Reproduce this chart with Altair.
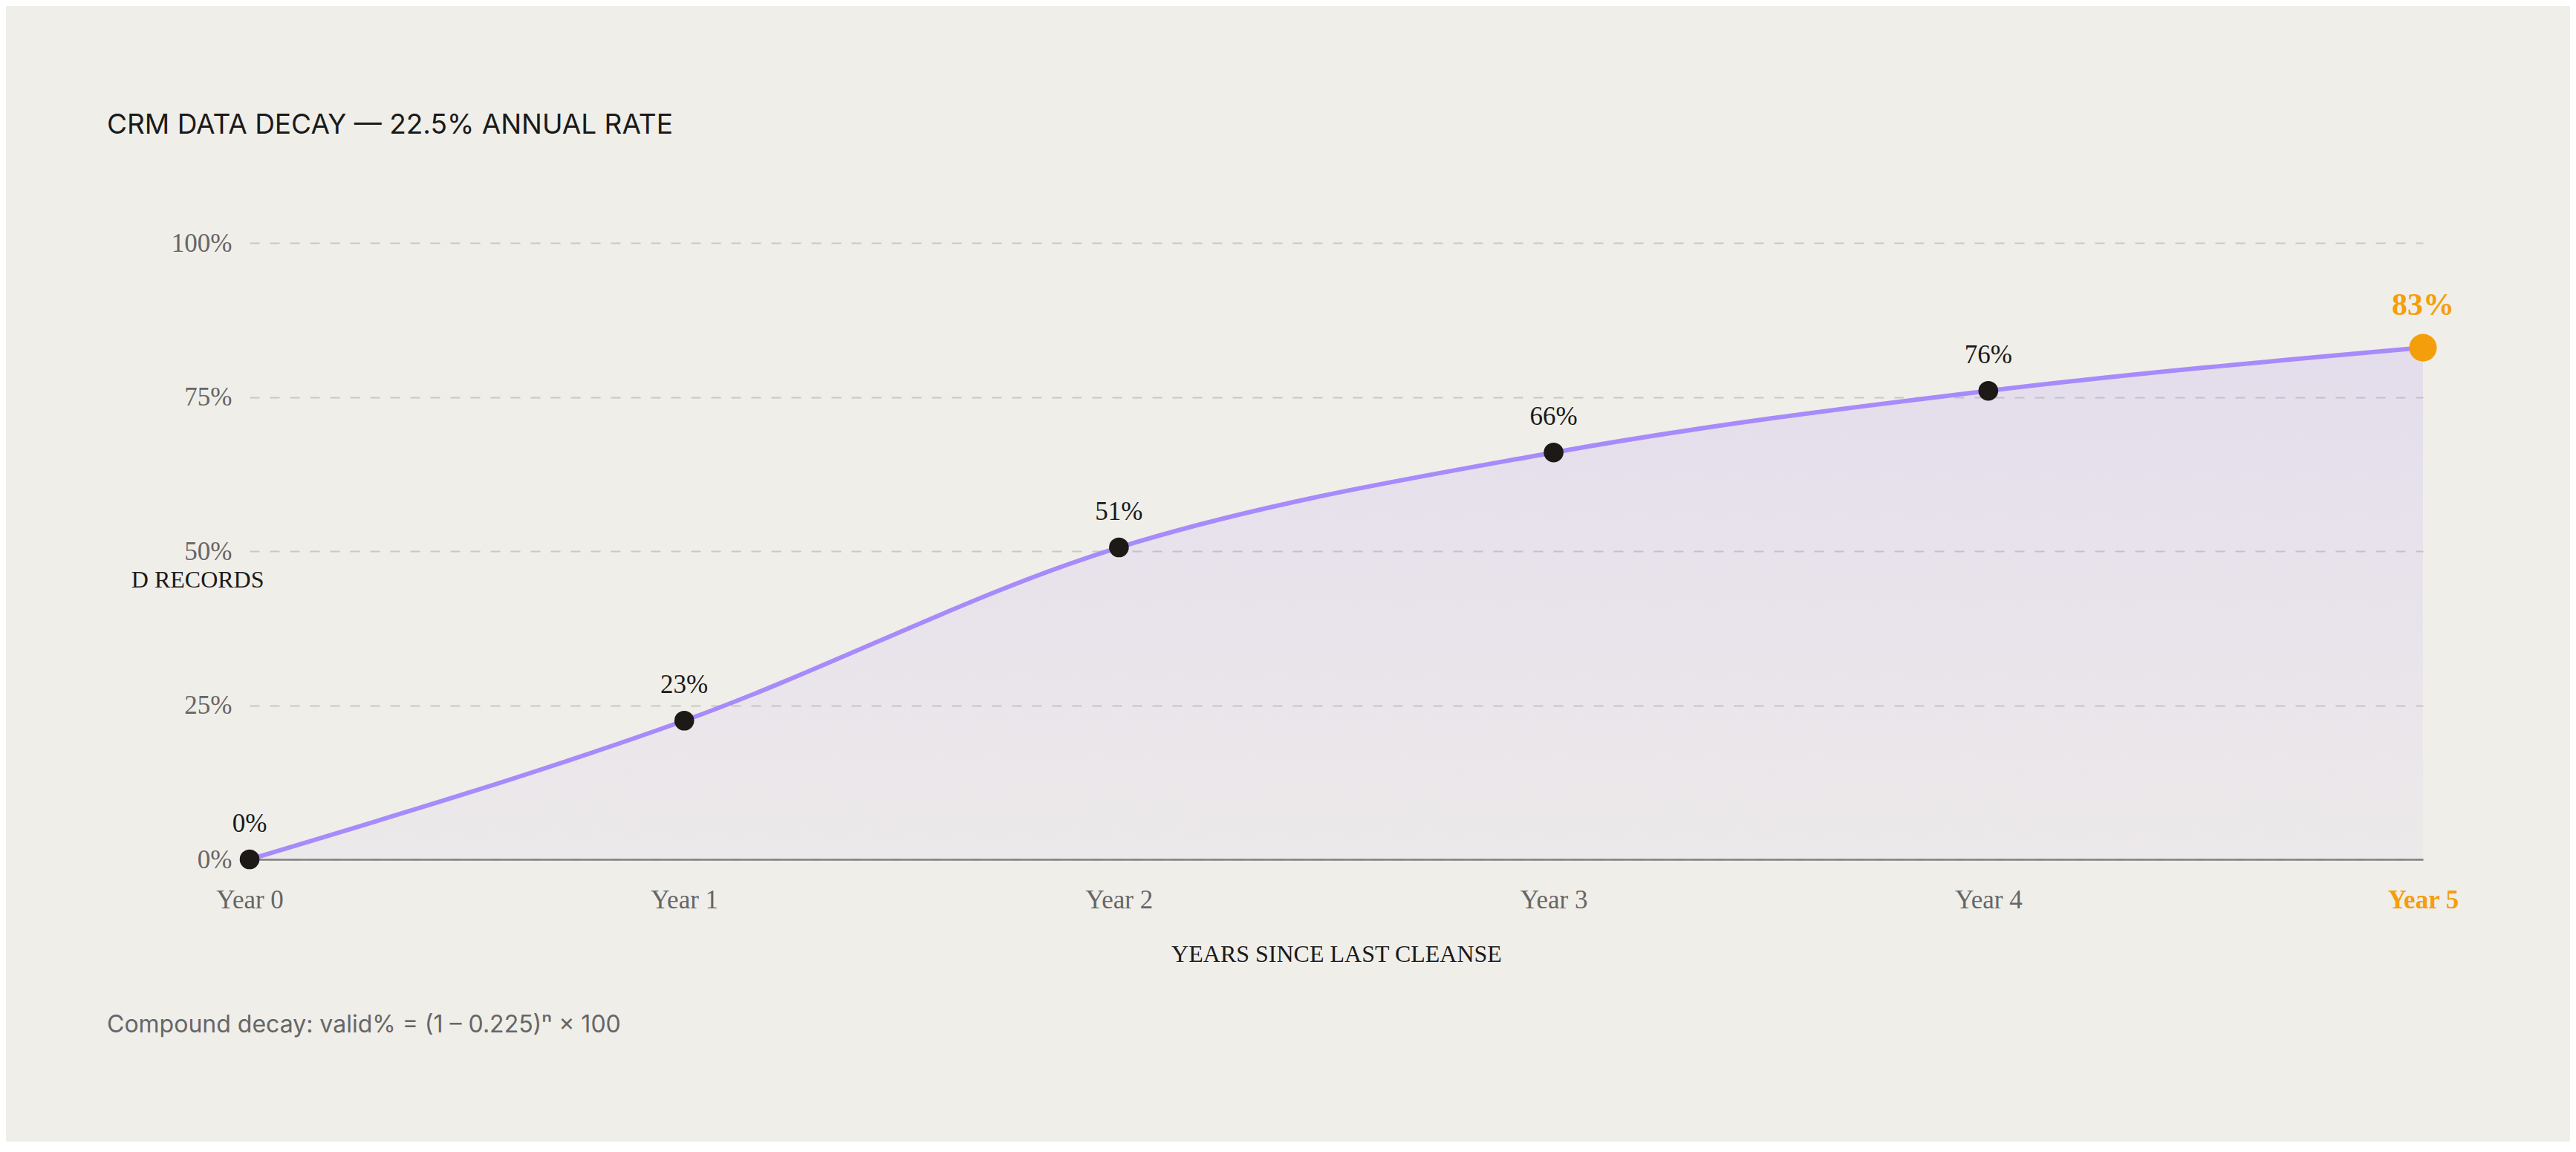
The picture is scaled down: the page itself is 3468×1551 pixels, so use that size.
import pandas as pd
import altair as alt

# dados
anos = [0, 1, 2, 3, 4, 5]
decaido = [0, 22.5, 50.6, 66.0, 76.0, 83.0]
ticks_y = [0, 25, 50, 75, 100]

titulo = "CRM DATA DECAY — 22.5% ANNUAL RATE"
titulo_x = "YEARS SINCE LAST CLEANSE"
titulo_y = "DECAYED RECORDS"
nota = "Compound decay: valid% = (1 – 0.225)ⁿ × 100"

# estilo
FUNDO = "#F0EEE9"
ESCURO = "#1a1a1a"
CINZA = "#666666"
ROXO = "#A78BFA"
LARANJA = "#F59E0B"
SERIF = "Liberation Serif"
SANS = "Inter"

df = pd.DataFrame({"ano": anos, "pct": decaido})

base = alt.Chart(df).encode(
    x=alt.X(
        "ano:Q",
        scale=alt.Scale(domain=[0, 5], nice=False, zero=False),
        axis=alt.Axis(
            values=anos,
            labelExpr="'Year ' + datum.value",
            labelFont=SERIF,
            labelFontSize=35,
            labelColor={"condition": {"test": "datum.value === 5", "value": LARANJA}, "value": CINZA},
            labelFontWeight={"condition": {"test": "datum.value === 5", "value": "bold"}, "value": "normal"},
            labelPadding=37,
            labelFlush=False,
            labelOverlap=False,
            ticks=False,
            tickSize=0,
            grid=False,
            domainColor="#808080",
            domainWidth=2.5,
            title=titulo_x,
            titleFont=SERIF,
            titleFontSize=32,
            titleFontWeight="normal",
            titleColor=ESCURO,
            titleBaseline="alphabetic",
            titleY=137,
        ),
    ),
    y=alt.Y(
        "pct:Q",
        scale=alt.Scale(domain=[0, 100], nice=False),
        axis=alt.Axis(
            values=ticks_y,
            labelExpr="datum.value + '%'",
            labelFont=SERIF,
            labelFontSize=35,
            labelColor=CINZA,
            labelPadding=24,
            ticks=False,
            tickSize=0,
            domain=False,
            grid=True,
            gridDash=[13, 14],
            gridColor="#CAC8C4",
            gridWidth=2,
            title=titulo_y,
            titleAngle=0,
            titleAlign="right",
            titleBaseline="alphabetic",
            titleX=19,
            titleY=463,
            titleFont=SERIF,
            titleFontSize=32,
            titleFontWeight="normal",
            titleColor=ESCURO,
            titleLimit=185,
        ),
    ),
)

# preenchimento roxo suave, mais forte no topo
gradiente = alt.Gradient(
    gradient="linear",
    stops=[
        alt.GradientStop(color="rgba(167,139,250,0.05)", offset=0),
        alt.GradientStop(color="rgba(167,139,250,0.17)", offset=1),
    ],
    x1=1, x2=1, y1=1, y2=0,
)

area = base.mark_area(interpolate="monotone", fill=gradiente)
linha = base.mark_line(interpolate="monotone", color=ROXO, strokeWidth=6)

pontos = base.transform_filter("datum.ano < 5").mark_circle(
    size=707, color="#1c1917", opacity=1
)
ponto_final = base.transform_filter("datum.ano == 5").mark_circle(
    size=1385, color=LARANJA, opacity=1
)

rotulos = base.transform_filter("datum.ano < 5").transform_calculate(
    txt="format(datum.pct, '.0f') + '%'"
).mark_text(
    dy=-37, baseline="alphabetic", font=SERIF, fontSize=35, color=ESCURO
).encode(text="txt:N")

rotulo_final = base.transform_filter("datum.ano == 5").transform_calculate(
    txt="format(datum.pct, '.0f') + '%'"
).mark_text(
    dy=-44, baseline="alphabetic", font=SERIF, fontSize=42, fontWeight="bold", color=LARANJA
).encode(text="txt:N")

rodape = alt.Chart(pd.DataFrame({"nota": [nota]})).mark_text(
    align="left", baseline="alphabetic", font=SANS, fontSize=32, color=CINZA
).encode(text="nota:N", x=alt.value(-192), y=alt.value(1063))

chart = alt.layer(
    area, linha, pontos, ponto_final, rotulos, rotulo_final, rodape
).properties(
    width=2926,
    height=830,
    autosize=alt.AutoSizeParams(type="none"),
    padding={"left": 328, "top": 319, "right": 198, "bottom": 380},
    background=FUNDO,
    title=alt.TitleParams(
        text=titulo,
        anchor="start",
        frame="group",
        dx=-192,
        offset=93,
        font=SANS,
        fontSize=37,
        fontWeight="normal",
        color=ESCURO,
        baseline="alphabetic",
    ),
).configure(
    # título do eixo y cortado pela esquerda, como no original
    style={"guide-title": {"dir": "rtl", "ellipsis": "\u200b"}}
).configure_view(
    stroke="transparent"
)

chart.save("out.html", embed_options={"renderer": "svg", "actions": False})
